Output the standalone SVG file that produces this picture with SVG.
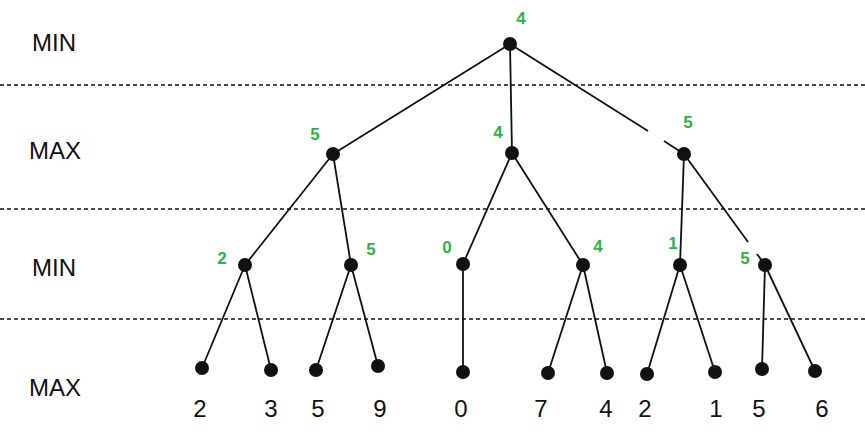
<svg xmlns="http://www.w3.org/2000/svg" width="865" height="441" viewBox="0 0 865 441">
<style>
.lvl{font-family:"Liberation Sans",Arial,sans-serif;font-size:24px;fill:#111}
.g{font-family:"Liberation Sans",Arial,sans-serif;font-size:17px;font-weight:bold;fill:#2db34a;text-anchor:middle}
.v{font-family:"Liberation Sans",Arial,sans-serif;font-size:24px;fill:#111;text-anchor:middle}
.d{stroke:#111;stroke-width:1.5;stroke-dasharray:4,3}
#edges line{stroke:#111;stroke-width:1.8}
circle{fill:#111}
</style>
<rect width="865" height="441" fill="#fff"/>
<line class="d" x1="0" y1="85" x2="865" y2="85"/>
<line class="d" x1="0" y1="209" x2="865" y2="209"/>
<line class="d" x1="0" y1="319" x2="865" y2="319"/>
<text class="lvl" x="32" y="51">MIN</text>
<text class="lvl" x="29" y="159">MAX</text>
<text class="lvl" x="32" y="276">MIN</text>
<text class="lvl" x="29" y="396">MAX</text>
<g id="edges">
<line x1="510" y1="44" x2="333" y2="154"/>
<line x1="510" y1="44" x2="512" y2="153"/>
<line x1="510" y1="44" x2="648" y2="131"/>
<line x1="664" y1="141" x2="684" y2="154"/>
<line x1="333" y1="154" x2="245" y2="265"/>
<line x1="333" y1="154" x2="351" y2="265"/>
<line x1="512" y1="153" x2="463" y2="264"/>
<line x1="512" y1="153" x2="583" y2="265"/>
<line x1="684" y1="154" x2="680" y2="265"/>
<line x1="684" y1="154" x2="748" y2="242"/>
<line x1="757" y1="254" x2="765" y2="265"/>
<line x1="245" y1="265" x2="202" y2="368"/>
<line x1="245" y1="265" x2="271" y2="370"/>
<line x1="351" y1="265" x2="316" y2="370"/>
<line x1="351" y1="265" x2="378" y2="366"/>
<line x1="463" y1="264" x2="463" y2="372"/>
<line x1="583" y1="265" x2="548" y2="373"/>
<line x1="583" y1="265" x2="607" y2="373"/>
<line x1="680" y1="265" x2="647" y2="374"/>
<line x1="680" y1="265" x2="715" y2="372"/>
<line x1="765" y1="265" x2="762" y2="369"/>
<line x1="765" y1="265" x2="815" y2="371"/>
</g>
<g id="root"><circle cx="510" cy="44" r="7"/><text class="g" x="521" y="24">4</text></g>
<g id="max1"><circle cx="333" cy="154" r="7"/><text class="g" x="315" y="140">5</text></g>
<g id="max2"><circle cx="512" cy="153" r="7"/><text class="g" x="498" y="138">4</text></g>
<g id="max3"><circle cx="684" cy="154" r="7"/><text class="g" x="688" y="128">5</text></g>
<g id="min1"><circle cx="245" cy="265" r="7"/><text class="g" x="222" y="264">2</text></g>
<g id="min2"><circle cx="351" cy="265" r="7"/><text class="g" x="371" y="255">5</text></g>
<g id="min3"><circle cx="463" cy="264" r="7"/><text class="g" x="447" y="253">0</text></g>
<g id="min4"><circle cx="583" cy="265" r="7"/><text class="g" x="598" y="252">4</text></g>
<g id="min5"><circle cx="680" cy="265" r="7"/><text class="g" x="673" y="249">1</text></g>
<g id="min6"><circle cx="765" cy="265" r="7"/><text class="g" x="745" y="264">5</text></g>
<g id="l1"><circle cx="202" cy="368" r="7"/><text class="v" x="200" y="417">2</text></g>
<g id="l2"><circle cx="271" cy="370" r="7"/><text class="v" x="271" y="417">3</text></g>
<g id="l3"><circle cx="316" cy="370" r="7"/><text class="v" x="318" y="417">5</text></g>
<g id="l4"><circle cx="378" cy="366" r="7"/><text class="v" x="380" y="417">9</text></g>
<g id="l5"><circle cx="463" cy="372" r="7"/><text class="v" x="461" y="417">0</text></g>
<g id="l6"><circle cx="548" cy="373" r="7"/><text class="v" x="541" y="417">7</text></g>
<g id="l7"><circle cx="607" cy="373" r="7"/><text class="v" x="606" y="417">4</text></g>
<g id="l8"><circle cx="647" cy="374" r="7"/><text class="v" x="645" y="417">2</text></g>
<g id="l9"><circle cx="715" cy="372" r="7"/><text class="v" x="716" y="417">1</text></g>
<g id="l10"><circle cx="762" cy="369" r="7"/><text class="v" x="759" y="417">5</text></g>
<g id="l11"><circle cx="815" cy="371" r="7"/><text class="v" x="822" y="417">6</text></g>
</svg>
